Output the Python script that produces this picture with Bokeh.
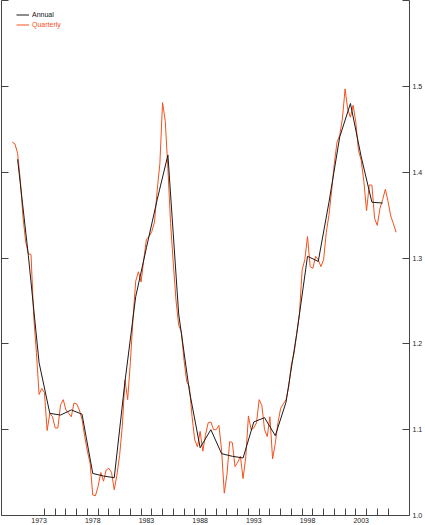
from bokeh.plotting import figure
from bokeh.models import Range1d, LinearAxis, FixedTicker, CustomJSTickFormatter, Legend, LegendItem
from bokeh.embed import file_html
from bokeh.resources import INLINE

# ---- data ----
annual_years = list(range(1971, 2006))
annual_values = [1.415, 1.303, 1.178, 1.119, 1.117, 1.123, 1.118, 1.049, 1.046, 1.044,
                 1.156, 1.255, 1.312, 1.368, 1.420, 1.235, 1.145, 1.079, 1.100, 1.072,
                 1.069, 1.067, 1.109, 1.114, 1.093, 1.132, 1.212, 1.302, 1.296, 1.365,
                 1.441, 1.480, 1.418, 1.365, 1.364]

quarterly_start = 1971
quarterly_values = [
    1.435, 1.433, 1.422, 1.391, 1.348, 1.319, 1.305, 1.304,
    1.232, 1.190, 1.141, 1.148, 1.143, 1.099, 1.119, 1.115,
    1.102, 1.102, 1.129, 1.135, 1.123, 1.119, 1.115, 1.131,
    1.130, 1.123, 1.112, 1.092, 1.075, 1.061, 1.024, 1.023,
    1.034, 1.050, 1.040, 1.053, 1.055, 1.050, 1.030, 1.047,
    1.070, 1.104, 1.158, 1.135, 1.178, 1.230, 1.273, 1.284,
    1.272, 1.298, 1.322, 1.325, 1.331, 1.342, 1.379, 1.410,
    1.481, 1.460, 1.404, 1.340, 1.294, 1.251, 1.222, 1.214,
    1.181, 1.156, 1.150, 1.115, 1.088, 1.080, 1.098, 1.075,
    1.094, 1.108, 1.109, 1.100, 1.100, 1.105, 1.076, 1.026,
    1.048, 1.086, 1.085, 1.057, 1.062, 1.069, 1.043, 1.068,
    1.116, 1.100, 1.102, 1.108, 1.135, 1.128, 1.100, 1.092,
    1.115, 1.066, 1.084, 1.108, 1.125, 1.130, 1.135, 1.150,
    1.176, 1.189, 1.212, 1.235, 1.286, 1.298, 1.325, 1.290,
    1.288, 1.302, 1.298, 1.290, 1.298, 1.330, 1.350, 1.379,
    1.410, 1.435, 1.443, 1.462, 1.497, 1.473, 1.464, 1.478,
    1.458, 1.425, 1.414, 1.389, 1.355, 1.385, 1.385, 1.346,
    1.338, 1.358, 1.368, 1.380, 1.366, 1.349, 1.340, 1.330,
]

x_label_years = [1973, 1978, 1983, 1988, 1993, 1998, 2003]
x_tick_years = list(range(1974, 2007))
y_label_ticks = [1.0, 1.1, 1.2, 1.3, 1.4, 1.5]
y_all_ticks = [1.0, 1.1, 1.2, 1.3, 1.4, 1.5, 1.6]

ORANGE = "#F4511E"
BLACK = "#1a1a1a"
AXIS = "#444444"
FONT = "Liberation Sans"

annual_x = [y + 0.5 for y in annual_years]
quarterly_x = [quarterly_start + i / 4 for i in range(len(quarterly_values))]

p = figure(width=425, height=525, x_range=Range1d(1970, 2008), y_range=Range1d(1.0, 1.6),
           output_backend="svg", toolbar_location=None,
           x_axis_location=None, y_axis_location=None,
           min_border_left=1, min_border_right=14, min_border_top=0, min_border_bottom=9)
p.outline_line_color = None
p.xgrid.visible = False
p.ygrid.visible = False
p.background_fill_color = "white"
p.border_fill_color = "white"

rq = p.line(quarterly_x, quarterly_values, line_color=ORANGE, line_width=1)
ra = p.line(annual_x, annual_values, line_color=BLACK, line_width=1)

# bottom axis: tick marks at year boundaries, labels centred in the year
xaxis = LinearAxis(
    ticker=FixedTicker(ticks=[y + 0.5 for y in x_label_years], minor_ticks=x_tick_years),
    formatter=CustomJSTickFormatter(code="return Math.floor(tick).toString()"),
    major_tick_in=0, major_tick_out=0, minor_tick_in=7, minor_tick_out=0,
    minor_tick_line_color=AXIS, axis_line_color=AXIS,
    major_label_text_font=FONT, major_label_text_font_size="7px",
    major_label_text_color="#222222", major_label_standoff=2)
p.add_layout(xaxis, "below")

# left axis: ticks only
laxis = LinearAxis(
    ticker=FixedTicker(ticks=y_all_ticks),
    formatter=CustomJSTickFormatter(code="return ''"),
    major_tick_in=7, major_tick_out=0, minor_tick_in=0, minor_tick_out=0,
    major_tick_line_color=AXIS, axis_line_color=AXIS,
    major_label_standoff=0, major_label_text_font_size="1px")
p.add_layout(laxis, "left")

# right axis with labels
raxis = LinearAxis(
    ticker=FixedTicker(ticks=y_label_ticks, minor_ticks=[1.6]),
    formatter=CustomJSTickFormatter(code="return tick.toFixed(1)"),
    major_tick_in=7, major_tick_out=0, minor_tick_in=7, minor_tick_out=0,
    major_tick_line_color=AXIS, minor_tick_line_color=AXIS, axis_line_color=AXIS,
    major_label_text_font=FONT, major_label_text_font_size="7px",
    major_label_text_color="#222222", major_label_standoff=3)
p.add_layout(raxis, "right")

def make_legend(label, renderer, color, y):
    lg = Legend(items=[LegendItem(label=label, renderers=[renderer])],
                location=(15, y), padding=0, margin=0, spacing=0,
                glyph_width=13, glyph_height=9, label_height=9, label_standoff=3,
                label_text_font=FONT, label_text_font_size="7px",
                label_text_color=color, border_line_color=None,
                background_fill_alpha=0)
    p.add_layout(lg, "center")

make_legend("Annual", ra, "#111111", 496)
make_legend("Quarterly", rq, ORANGE, 486.5)

open("out.html", "w").write(file_html(p, INLINE))
